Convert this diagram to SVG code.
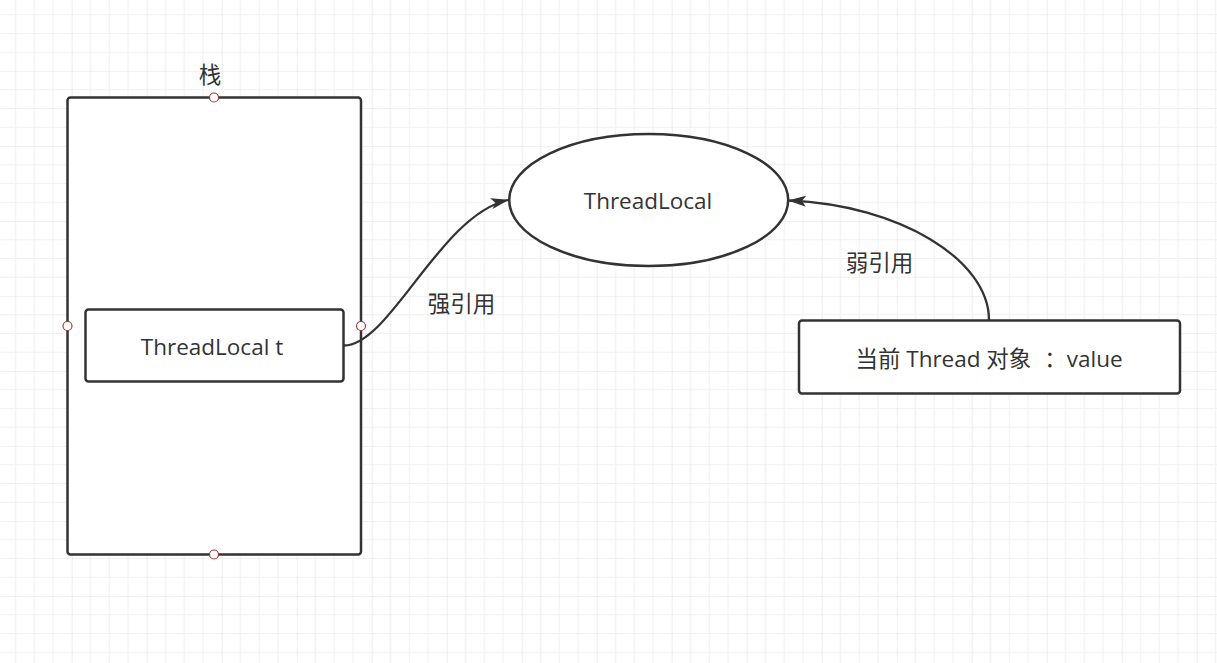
<svg xmlns="http://www.w3.org/2000/svg" width="1217" height="663" viewBox="0 0 1217 663">
  <style>
    .shape { fill: #ffffff; stroke: #333333; stroke-width: 2.5; }
    .txt { font-family: "Open Sans", "Noto Sans CJK SC", sans-serif; font-size: 22.5px; fill: #333333; text-anchor: middle; }
    .conn { fill: none; stroke: #333333; stroke-width: 2.3; }
    .pt { fill: #ffffff; stroke: #a33a3a; stroke-width: 1.2; }
  </style>
  <defs>
    <pattern id="grid" x="-3.3" y="-4" width="75" height="75" patternUnits="userSpaceOnUse">
      <path d="M18.75 0V75M37.5 0V75M56.25 0V75M0 18.75H75M0 37.5H75M0 56.25H75" stroke="#f1f1f1" stroke-width="1.2" fill="none"/>
      <path d="M0 0V75M0 0H75" stroke="#e3e3e3" stroke-width="1.2" fill="none"/>
    </pattern>
    <marker id="arrow" markerUnits="userSpaceOnUse" viewBox="0 0 18 12" markerWidth="18" markerHeight="12" refX="17" refY="6" orient="auto">
      <path d="M0 0.5 L18 6 L0 11.5 L4 6 Z" fill="#333333"/>
    </marker>
  </defs>
  <rect width="1217" height="663" fill="#ffffff"/>
  <rect width="1217" height="663" fill="url(#grid)"/>

  <g id="stack">
    <rect class="shape" x="67.5" y="97.5" width="293.5" height="457" rx="3"/>
    <text class="txt" x="210" y="82.5">栈</text>
    <circle class="pt" cx="214" cy="97.5" r="4.5"/>
    <circle class="pt" cx="67.5" cy="326" r="4.5"/>
    <circle class="pt" cx="361" cy="326" r="4.5"/>
    <circle class="pt" cx="214" cy="554.5" r="4.5"/>
  </g>

  <g id="threadlocal-t">
    <rect class="shape" x="85.5" y="309.5" width="258" height="72" rx="3"/>
    <text class="txt" x="212" y="355">ThreadLocal t</text>
  </g>

  <g id="threadlocal">
    <ellipse class="shape" cx="648.7" cy="200" rx="139.5" ry="66"/>
    <text class="txt" x="648" y="209">ThreadLocal</text>
  </g>

  <g id="thread-value">
    <rect class="shape" x="799" y="320.5" width="381" height="73" rx="3"/>
    <text class="txt" x="989" y="367">当前 Thread 对象 <tspan dx="7">：</tspan>value</text>
  </g>

  <g id="connectors">
    <path class="conn" d="M344 345.5 C390 345.5, 440 215, 508 200" marker-end="url(#arrow)"/>
    <text class="txt" x="461.5" y="312">强引用</text>
    <path class="conn" d="M989 320 C989 260, 900 205, 789 200.5" marker-end="url(#arrow)"/>
    <text class="txt" x="879.5" y="270.5">弱引用</text>
  </g>
</svg>
